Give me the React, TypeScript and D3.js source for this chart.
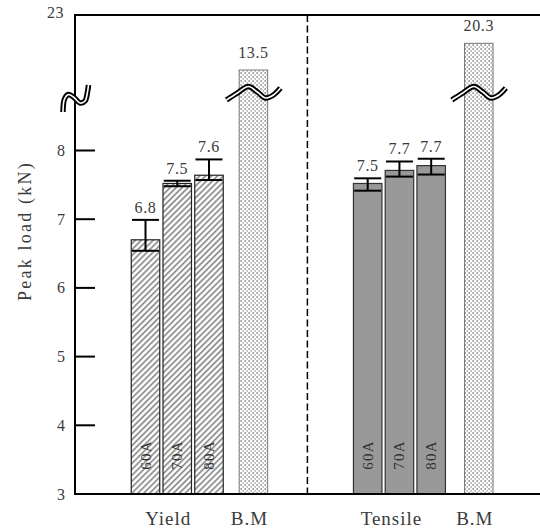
import React from "react";
import * as d3 from "d3";

// ---------- data ----------
const currents = ["60A", "70A", "80A"];
const yieldValues = [6.7, 7.52, 7.64];
const yieldErrLow = [6.54, 7.48, 7.57];
const yieldErrHigh = [6.99, 7.56, 7.87];
const yieldLabels = ["6.8", "7.5", "7.6"];
const tensileValues = [7.52, 7.71, 7.78];
const tensileErrLow = [7.415, 7.62, 7.65];
const tensileErrHigh = [7.595, 7.84, 7.88];
const tensileLabels = ["7.5", "7.7", "7.7"];
const bmValues = [13.5, 20.3];
const bmLabels = ["13.5", "20.3"];
const groupLabels = ["Yield", "B.M", "Tensile", "B.M"];
const yTicks = [3, 4, 5, 6, 7, 8];
const yTopTick = 23;

// ---------- layout ----------
const W = 540;
const H = 531;
const axisX = 75;
const topY = 15;
const baseY = 494;
const barW = 28.5;
const FONT = "'Liberation Serif', 'DejaVu Serif', serif";
const TXT = "#3a3a3a";

// broken (polylinear) y scale
const y = d3
  .scaleLinear()
  .domain([3, 8, 13.5, 20.3, 23])
  .range([baseY, 150.5, 70, 43.3, topY]);

// slot index → x centre
const x = d3.scaleLinear().domain([0, 10.5]).range([145.5, 478.8]);
const yieldSlots = [0, 1, 2];
const tensileSlots = [7, 8, 9];
const bmSlots = [3.4, 10.5];
const dividerSlot = 5.1;

const waveLine = d3
  .line<[number, number]>()
  .x((d) => d[0])
  .y((d) => d[1])
  .curve(d3.curveCatmullRom.alpha(0.5));

const barWaveShape: [number, number][] = [
  [-28, 7],
  [-17, 0],
  [-6, -6.5],
  [3, -1],
  [11, 5],
  [19, 2],
  [26, -5],
];
const axisWaveShape: [number, number][] = [
  [-12, 19],
  [-10.5, 6],
  [-6.5, 1.5],
  [-1, 4.5],
  [5, 10],
  [10, 8],
  [12.5, -1],
  [13.5, -8],
];

function Wave({ cx, cy, shape }: { cx: number; cy: number; shape: [number, number][] }) {
  const pts = shape.map(([dx, dy]) => [cx + dx, cy + dy] as [number, number]);
  const d = waveLine(pts) || "";
  return (
    <g>
      <path d={d} fill="none" stroke="#000" strokeWidth={5.5} strokeLinecap="butt" />
      <path d={d} fill="none" stroke="#fff" strokeWidth={1.6} strokeLinecap="butt" />
    </g>
  );
}

function ErrorBar({ cx, lo, hi }: { cx: number; lo: number; hi: number }) {
  const cw = 27;
  return (
    <g stroke="#000" strokeWidth={2}>
      <line x1={cx} x2={cx} y1={y(lo)} y2={y(hi)} />
      <line x1={cx - cw / 2} x2={cx + cw / 2} y1={y(lo)} y2={y(lo)} />
      <line x1={cx - cw / 2} x2={cx + cw / 2} y1={y(hi)} y2={y(hi)} />
    </g>
  );
}

export default function App() {
  const groups = [
    {
      slots: yieldSlots,
      values: yieldValues,
      lo: yieldErrLow,
      hi: yieldErrHigh,
      labels: yieldLabels,
      fill: "url(#hatch)",
      stroke: "#222",
    },
    {
      slots: tensileSlots,
      values: tensileValues,
      lo: tensileErrLow,
      hi: tensileErrHigh,
      labels: tensileLabels,
      fill: "#999999",
      stroke: "#333",
    },
  ];
  const groupLabelX = [x(1) - 9, x(bmSlots[0]) - 4, x(8) - 8, x(bmSlots[1]) - 4];

  return (
    <svg
      width={W}
      height={H}
      style={{ position: "absolute", left: 0, top: 0, display: "block", background: "#fff" }}
    >
      <defs>
        <pattern
          id="hatch"
          patternUnits="userSpaceOnUse"
          width={4.2}
          height={4.2}
          patternTransform="rotate(45)"
        >
          <rect width={4.2} height={4.2} fill="#fff" />
          <line x1={1} x2={1} y1={0} y2={4.2} stroke="#8a8a8a" strokeWidth={1.7} />
        </pattern>
        <pattern id="dots" patternUnits="userSpaceOnUse" width={4} height={4}>
          <rect width={4} height={4} fill="#fff" />
          <rect x={0.5} y={0} width={1.3} height={2} fill="#8c8c8c" />
          <rect x={2.5} y={2} width={1.3} height={2} fill="#b0b0b0" />
        </pattern>
      </defs>

      {/* bars with error bars */}
      {groups.map((g, gi) => (
        <g key={gi}>
          {g.values.map((v, i) => {
            const cx = x(g.slots[i]);
            return (
              <g key={i}>
                <rect
                  x={cx - barW / 2}
                  y={y(v)}
                  width={barW}
                  height={y(3) - y(v)}
                  fill={g.fill}
                  stroke={g.stroke}
                  strokeWidth={1.2}
                />
                <ErrorBar cx={cx} lo={g.lo[i]} hi={g.hi[i]} />
                <text
                  x={cx}
                  y={y(g.hi[i]) - 7}
                  textAnchor="middle"
                  fontFamily={FONT}
                  fontSize={16}
                  letterSpacing={0.6}
                  fill={TXT}
                >
                  {g.labels[i]}
                </text>
                <text
                  transform={`translate(${cx},455) rotate(-90)`}
                  textAnchor="middle"
                  dominantBaseline="central"
                  fontFamily={FONT}
                  fontSize={15}
                  letterSpacing={1.2}
                  fill="#333"
                >
                  {currents[i]}
                </text>
              </g>
            );
          })}
        </g>
      ))}

      {/* base metal bars */}
      {bmValues.map((v, i) => {
        const cx = x(bmSlots[i]);
        return (
          <g key={i}>
            <rect
              x={cx - barW / 2}
              y={y(v)}
              width={barW}
              height={y(3) - y(v)}
              fill="url(#dots)"
              stroke="#777"
              strokeWidth={1}
            />
            <text
              x={cx}
              y={y(v) - 12}
              textAnchor="middle"
              fontFamily={FONT}
              fontSize={16}
              letterSpacing={0.6}
              fill={TXT}
            >
              {bmLabels[i]}
            </text>
            <Wave cx={cx + 1} cy={93} shape={barWaveShape} />
          </g>
        );
      })}

      {/* divider */}
      <line
        x1={x(dividerSlot)}
        x2={x(dividerSlot)}
        y1={topY}
        y2={baseY}
        stroke="#000"
        strokeWidth={1.5}
        strokeDasharray="7,3.5"
      />

      {/* frame & axis */}
      <line x1={axisX} x2={W} y1={topY} y2={topY} stroke="#000" strokeWidth={2} />
      <line x1={axisX} x2={W} y1={baseY} y2={baseY} stroke="#000" strokeWidth={2} />
      <line x1={axisX} x2={axisX} y1={topY - 1} y2={baseY + 1} stroke="#000" strokeWidth={2} />
      {yTicks.map((t) => (
        <g key={t}>
          <line x1={axisX} x2={axisX + 20} y1={y(t)} y2={y(t)} stroke="#000" strokeWidth={2} />
          <text
            x={axisX - 10}
            y={y(t)}
            textAnchor="end"
            dominantBaseline="central"
            fontFamily={FONT}
            fontSize={16}
            fill={TXT}
          >
            {t}
          </text>
        </g>
      ))}
      <text
        x={axisX - 11}
        y={y(yTopTick) - 3}
        textAnchor="end"
        dominantBaseline="central"
        fontFamily={FONT}
        fontSize={16}
        letterSpacing={0.5}
        fill={TXT}
      >
        {yTopTick}
      </text>
      <Wave cx={axisX} cy={93} shape={axisWaveShape} />

      {/* axis title */}
      <text
        transform={`translate(25,231) rotate(-90)`}
        textAnchor="middle"
        dominantBaseline="central"
        fontFamily={FONT}
        fontSize={18}
        letterSpacing={2.2}
        fill={TXT}
      >
        Peak load (kN)
      </text>

      {/* group labels */}
      {groupLabels.map((l, i) => (
        <text
          key={i}
          x={groupLabelX[i]}
          y={518}
          textAnchor="middle"
          dominantBaseline="central"
          fontFamily={FONT}
          fontSize={19}
          letterSpacing={1}
          fill={TXT}
        >
          {l}
        </text>
      ))}
    </svg>
  );
}
